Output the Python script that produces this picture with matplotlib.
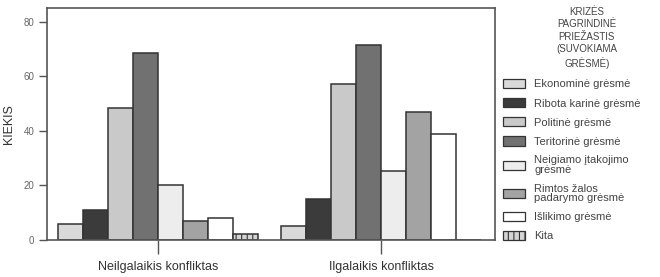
import numpy as np
import matplotlib.pyplot as plt
from matplotlib.patches import Patch

plt.rcParams['font.family'] = ['Liberation Sans', 'DejaVu Sans']
plt.rcParams['hatch.color'] = '#8a8a8a'
plt.rcParams['hatch.linewidth'] = 0.8

# Duomenys
groups = ['Neilgalaikis konfliktas', 'Ilgalaikis konfliktas']
causes = ['Ekonominė grėsmė', 'Ribota karinė grėsmė', 'Politinė grėsmė',
          'Teritorinė grėsmė', 'Neigiamo įtakojimo\ngrėsmė',
          'Rimtos žalos\npadarymo grėsmė', 'Išlikimo grėsmė', 'Kita']
short_term = [6, 11, 48.5, 68.5, 20, 7, 8, 2]
long_term = [5, 15, 57.3, 71.6, 25.4, 47, 38.7, 0]

colors = ['#d9d9d9', '#3b3b3b', '#c9c9c9', '#717171', '#ededed', '#a3a3a3',
          '#ffffff', '#d4d4d4']
hatches = [None] * 7 + ['|||']
edge = '#333333'
txt = '#444444'

fig = plt.figure(figsize=(6.6, 2.77), dpi=100)
ax = fig.add_axes([0.0712, 0.134, 0.6788, 0.837])

x = np.arange(len(groups))
w = 0.112
values = np.array([short_term, long_term])
for i in range(len(causes)):
    ax.bar(x + (i - 3.5) * w, values[:, i], width=w, color=colors[i],
           edgecolor=edge, linewidth=1.1, hatch=hatches[i])

ax.set_xlim(-0.498, 1.511)
ax.set_ylim(0, 85)
ax.set_yticks([0, 20, 40, 60, 80])
ax.set_xticks(x)
ax.set_xticklabels(groups, fontsize=9, color='#333333')
ax.tick_params(axis='x', direction='out', length=10, width=1, color='#555555', pad=5)
ax.tick_params(axis='y', direction='out', length=6, width=1, color='#555555',
               labelsize=7, labelcolor='#666666', pad=3)
ax.set_ylabel('KIEKIS', fontsize=9, color='#333333', labelpad=6)
for s in ax.spines.values():
    s.set_color('#555555')
    s.set_linewidth(1.2)

fig.text(0.889, 0.975, 'KRIZĖS\nPAGRINDINĖ\nPRIEŽASTIS\n(SUVOKIAMA\nGRĖSMĖ)',
         ha='center', va='top', fontsize=7, color=txt, linespacing=1.3)

handles = [Patch(facecolor=colors[i], edgecolor=edge, hatch=hatches[i], linewidth=0.9)
           for i in range(len(causes))]
leg = fig.legend(handles, causes, loc='upper left', bbox_to_anchor=(0.762, 0.715),
                 frameon=False, fontsize=8, handlelength=2.0, handleheight=0.9,
                 handletextpad=0.8, labelspacing=0.78, borderpad=0.0, borderaxespad=0)
for t in leg.get_texts():
    t.set_color(txt)
    t.set_linespacing(0.95)

fig.savefig('out.png', dpi=100)
